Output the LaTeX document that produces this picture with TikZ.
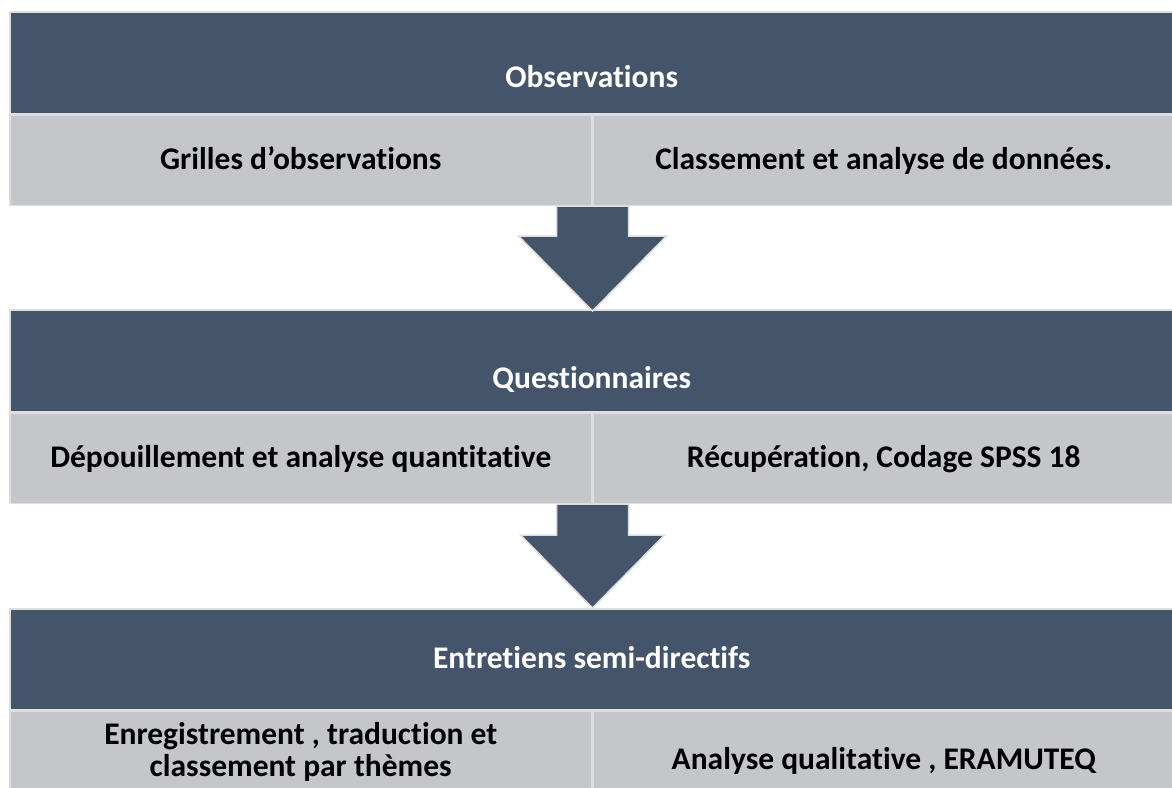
\documentclass[tikz,border=0pt]{standalone}
\usepackage{fontspec}
\setmainfont{Carlito}[Ligatures=NoCommon]
\usetikzlibrary{positioning,calc}

\definecolor{bandblue}{HTML}{44546A}
\definecolor{cellgray}{HTML}{C4C6CA}
\definecolor{edgegray}{HTML}{DEDEDE}

\newcommand\boxfont{\bfseries\fontsize{31.5}{32}\selectfont\lineskiplimit-20pt\relax}

\tikzset{
  band/.style={rectangle,fill=bandblue,draw=edgegray,line width=1.5pt,
    minimum width=1164pt,minimum height=102pt,inner sep=0pt,anchor=north west},
  cell/.style={rectangle,fill=cellgray,draw=edgegray,line width=1.5pt,
    minimum width=582pt,minimum height=90pt,inner sep=0pt,anchor=north west},
  bandtext/.style={text=white,font=\boxfont,anchor=base},
  celltext/.style={text=black,font=\boxfont,align=center},
  blockarrow/.style={fill=bandblue,draw=edgegray,line width=1.5pt,line join=miter},
}

\begin{document}
\begin{tikzpicture}[x=1pt,y=-1pt]

\useasboundingbox (0,0) rectangle (1172,787);
\fill[white] (0,0) rectangle (1172,787);
\clip (0,0) rectangle (1172,787);

% ---------- Observations ----------
\node[band] (obs) at (9,11) {};
\node[cell] (obsL) at (obs.south west) {};
\node[cell,minimum width=581pt] (obsR) at (obsL.north east) {};
\node[bandtext] (obsT) at ($(obs.north)+(0,76)$) {Observations};
\node[celltext,anchor=base] (obsLT) at ($(obsL.north)+(0,55)$) {Grilles d’observations};
\node[celltext,anchor=base] (obsRT) at ($(obsR.north)+(0,55)$) {Classement et analyse de données.};

% ---------- Questionnaires ----------
\node[band] (qst) at ($(obsL.south west)+(0,103)$) {};
\node[cell] (qstL) at (qst.south west) {};
\node[cell,minimum width=581pt] (qstR) at (qstL.north east) {};
\node[bandtext] (qstT) at ($(qst.north)+(0,79)$) {Questionnaires};
\node[celltext,anchor=base] (qstLT) at ($(qstL.north)+(0,55)$) {Dépouillement et analyse quantitative};
\node[celltext,anchor=base] (qstRT) at ($(qstR.north)+(0,55)$) {Récupération, Codage SPSS 18};

% ---------- Entretiens ----------
\node[band,minimum height=101pt] (ent) at ($(qstL.south west)+(0,104)$) {};
\node[cell,minimum height=104pt] (entL) at (ent.south west) {};
\node[cell,minimum width=581pt,minimum height=104pt] (entR) at (entL.north east) {};
\node[bandtext] (entT) at ($(ent.north)+(0,60)$) {Entretiens semi-directifs};
\node[celltext] (entLT) at ($(entL.north)+(0,41)$) {Enregistrement , traduction et\\classement par thèmes};
\node[celltext,anchor=base] (entRT) at ($(entR.north)+(0,59)$) {Analyse qualitative , ERAMUTEQ};

% ---------- Block arrows between the stages ----------
\coordinate (a1) at (obsL.south east);
\coordinate (t1) at (a1 |- qst.north);
\draw[blockarrow] ($(a1)+(-36,0)$) -- ++(0,30) -- ++(-38,0) -- ($(t1)+(0,2)$)
  -- ($(a1)+(74,30)$) -- ($(a1)+(36,30)$) -- ($(a1)+(36,0)$) -- cycle;

\coordinate (a2) at (qstL.south east);
\coordinate (t2) at (a2 |- ent.north);
\draw[blockarrow] ($(a2)+(-36,0)$) -- ++(0,31) -- ++(-36,0) -- (t2)
  -- ($(a2)+(72,31)$) -- ($(a2)+(36,31)$) -- ($(a2)+(36,0)$) -- cycle;

\end{tikzpicture}
\end{document}
